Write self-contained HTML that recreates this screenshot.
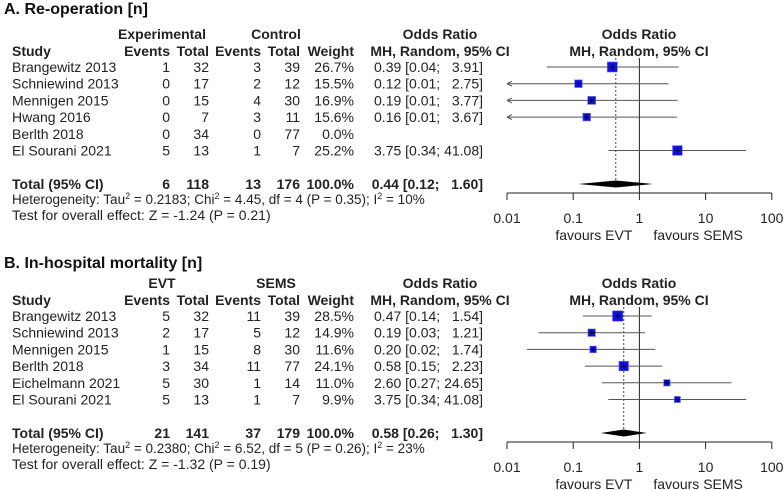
<!DOCTYPE html>
<html><head><meta charset="utf-8"><style>
body{margin:0;background:#fff;width:784px;height:490px;overflow:hidden}
svg{display:block;font-family:"Liberation Sans",Arial,sans-serif}
.t{font-size:14px;fill:#222}
.h{font-size:13.5px;fill:#222}
.b{font-weight:bold}
.ti{font-size:16px;font-weight:bold;fill:#111}
</style></head><body>
<svg id="chart" width="784" height="490" viewBox="0 0 784 490"></svg>
<script>
// Panel A data
const studiesA = ["Brangewitz 2013","Schniewind 2013","Mennigen 2015","Hwang 2016","Berlth 2018","El Sourani 2021"];
const expEventsA = [1,0,0,0,0,5];
const expTotalA = [32,17,15,7,34,13];
const ctrlEventsA = [3,2,4,3,0,1];
const ctrlTotalA = [39,12,30,11,77,7];
const weightA = [26.7,15.5,16.9,15.6,0.0,25.2];
const orA = [0.39,0.12,0.19,0.16,null,3.75];
const loA = [0.04,0.01,0.01,0.01,null,0.34];
const hiA = [3.91,2.75,3.77,3.67,null,41.08];
const pooledA = [0.44,0.12,1.60];
const totalsA = [6,118,13,176];
// Panel B data
const studiesB = ["Brangewitz 2013","Schniewind 2013","Mennigen 2015","Berlth 2018","Eichelmann 2021","El Sourani 2021"];
const expEventsB = [5,2,1,3,5,5];
const expTotalB = [32,17,15,34,30,13];
const ctrlEventsB = [11,5,8,11,1,1];
const ctrlTotalB = [39,12,30,77,14,7];
const weightB = [28.5,14.9,11.6,24.1,11.0,9.9];
const orB = [0.47,0.19,0.20,0.58,2.60,3.75];
const loB = [0.14,0.03,0.02,0.15,0.27,0.34];
const hiB = [1.54,1.21,1.74,2.23,24.65,41.08];
const pooledB = [0.58,0.26,1.30];
const totalsB = [21,141,37,179];
const tickVals = [0.01,0.1,1,10,100];
const tickLabels = ["0.01","0.1","1","10","100"];

const svg = document.getElementById('chart');
const NS = "http://www.w3.org/2000/svg";
function xs(v){ return 507 + (Math.log10(v) + 2) * 66.2; }
function mk(tag, attrs, parent){ const e=document.createElementNS(NS,tag); for(const k in attrs) e.setAttribute(k,attrs[k]); (parent||svg).appendChild(e); return e; }
function txt(s,x,y,anchor,cls,parent){ const e=mk('text',{x:x,y:y,'text-anchor':anchor||'start','class':cls||'t'},parent); e.textContent=s; return e; }
function f2(v){ return v.toFixed(2); }
function ciStr(o,l,h){ const pad=s=>s.length<5?'\u2007'+s:s; return f2(o)+" ["+f2(l)+"; "+pad(f2(h))+"]"; }

function panel(cfg){
  const g = mk('g',{});
  
  
  const o = cfg.oy;
  const t = txt(cfg.title, 4, cfg.titleY, 'start', 'ti', g);
  
  
  txt(cfg.g1, 162, o+39, 'middle', 't b', g);
  txt(cfg.g2, 276, o+39, 'middle', 't b', g);
  txt("Odds Ratio", 440, o+39, 'middle', 't b', g);
  txt("Odds Ratio", 639, o+39, 'middle', 't b', g);
  const h = o+56;
  txt("Study", 12, h, 'start', 't b', g);
  txt("Events", 170, h, 'end', 't b', g);
  txt("Total", 209, h, 'end', 't b', g);
  txt("Events", 261, h, 'end', 't b', g);
  txt("Total", 300, h, 'end', 't b', g);
  txt("Weight", 354, h, 'end', 't b', g);
  txt("MH, Random, 95% CI", 440, h, 'middle', 't b', g);
  txt("MH, Random, 95% CI", 639, h, 'middle', 't b', g);
  const axY = o+193;
  mk('line',{x1:xs(1),x2:xs(1),y1:o+58,y2:axY,stroke:'#222','stroke-width':1},g);
  mk('line',{x1:xs(cfg.pooled[0]),x2:xs(cfg.pooled[0]),y1:o+58,y2:o+184,stroke:'#444','stroke-width':1,'stroke-dasharray':'2,2'},g);
  cfg.studies.forEach((s,i)=>{
    const y = o+67+i*16.7;
    const yb = y+5;
    const row = mk('g',{},g);
    
    
    txt(s,12,yb,'start','t',row);
    txt(String(cfg.ee[i]),170,yb,'end','t',row);
    txt(String(cfg.et[i]),209,yb,'end','t',row);
    txt(String(cfg.ce[i]),261,yb,'end','t',row);
    txt(String(cfg.ct[i]),300,yb,'end','t',row);
    txt(cfg.w[i].toFixed(1)+"%",354,yb,'end','t',row);
    if(cfg.or[i]!=null){
      txt(ciStr(cfg.or[i],cfg.lo[i],cfg.hi[i]),483,yb,'end','t',row);
      const lo = Math.max(cfg.lo[i],0.01), hi=Math.min(cfg.hi[i],100);
      const x1 = xs(lo), x2 = xs(hi);
      mk('line',{x1:x1,x2:x2,y1:y,y2:y,stroke:'#555','stroke-width':1},row);
      if(cfg.lo[i]<=0.01){
        mk('path',{d:`M${x1} ${y} l5 -2.5 M${x1} ${y} l5 2.5`,stroke:'#555','stroke-width':1,fill:'none'},row);
      }
      const sz = 1.94*Math.sqrt(cfg.w[i]);
      const sq = mk('rect',{x:xs(cfg.or[i])-sz/2,y:y-sz/2,width:sz,height:sz,fill:'#1010e0',stroke:'#6a6ad8','stroke-width':0.6},row);
      
      
      mk('path',{d:`M${xs(cfg.or[i])-2.5} ${y} h5 M${xs(cfg.or[i])} ${y-2.5} v5`,stroke:'#000','stroke-width':0.8},row);
    }
  });
  const ty = o+184, tb = ty+5;
  const tr = mk('g',{},g);
  
  
  txt("Total (95% CI)",12,tb,'start','t b',tr);
  txt(String(cfg.tot[0]),170,tb,'end','t b',tr);
  txt(String(cfg.tot[1]),209,tb,'end','t b',tr);
  txt(String(cfg.tot[2]),261,tb,'end','t b',tr);
  txt(String(cfg.tot[3]),300,tb,'end','t b',tr);
  txt("100.0%",354,tb,'end','t b',tr);
  txt(ciStr(cfg.pooled[0],cfg.pooled[1],cfg.pooled[2]),483,tb,'end','t b',tr);
  const dm = mk('path',{d:`M${xs(cfg.pooled[1])} ${ty} L${xs(cfg.pooled[0])} ${ty-3.5} L${xs(cfg.pooled[2])} ${ty} L${xs(cfg.pooled[0])} ${ty+3.5} Z`,fill:'#000'},g);
  
  
  const het = mk('text',{x:12,y:o+204,'class':'h'},g);
  het.innerHTML = cfg.het;
  
  
  const te = txt(cfg.test,12,o+220,'start','t',g);
  
  
  const ax = mk('g',{},g);
  
  
  mk('line',{x1:xs(tickVals[0]),x2:xs(tickVals[tickVals.length-1]),y1:axY,y2:axY,stroke:'#222','stroke-width':1},ax);
  tickVals.forEach((v,i)=>{
    mk('line',{x1:xs(v),x2:xs(v),y1:axY,y2:axY+7,stroke:'#222','stroke-width':1},ax);
    txt(tickLabels[i],xs(v),axY+30,'middle','t',ax);
  });
  txt("favours EVT",xs(1)-7,axY+47,'end','t',ax);
  txt("favours SEMS",xs(1)+14,axY+47,'start','t',ax);
}

panel({name:'panel-a-reoperation',oy:0,titleY:14,title:"A. Re-operation [n]",g1:"Experimental",g2:"Control",
  studies:studiesA,ee:expEventsA,et:expTotalA,ce:ctrlEventsA,ct:ctrlTotalA,w:weightA,or:orA,lo:loA,hi:hiA,pooled:pooledA,tot:totalsA,
  het:'Heterogeneity: Tau<tspan baseline-shift="super" font-size="9">2</tspan> = 0.2183; Chi<tspan baseline-shift="super" font-size="9">2</tspan> = 4.45, df = 4 (P = 0.35); I<tspan baseline-shift="super" font-size="9">2</tspan> = 10%',
  test:"Test for overall effect: Z = -1.24 (P = 0.21)"});
panel({name:'panel-b-mortality',oy:249,titleY:268,title:"B. In-hospital mortality [n]",g1:"EVT",g2:"SEMS",
  studies:studiesB,ee:expEventsB,et:expTotalB,ce:ctrlEventsB,ct:ctrlTotalB,w:weightB,or:orB,lo:loB,hi:hiB,pooled:pooledB,tot:totalsB,
  het:'Heterogeneity: Tau<tspan baseline-shift="super" font-size="9">2</tspan> = 0.2380; Chi<tspan baseline-shift="super" font-size="9">2</tspan> = 6.52, df = 5 (P = 0.26); I<tspan baseline-shift="super" font-size="9">2</tspan> = 23%',
  test:"Test for overall effect: Z = -1.32 (P = 0.19)"});
</script>
</body></html>
